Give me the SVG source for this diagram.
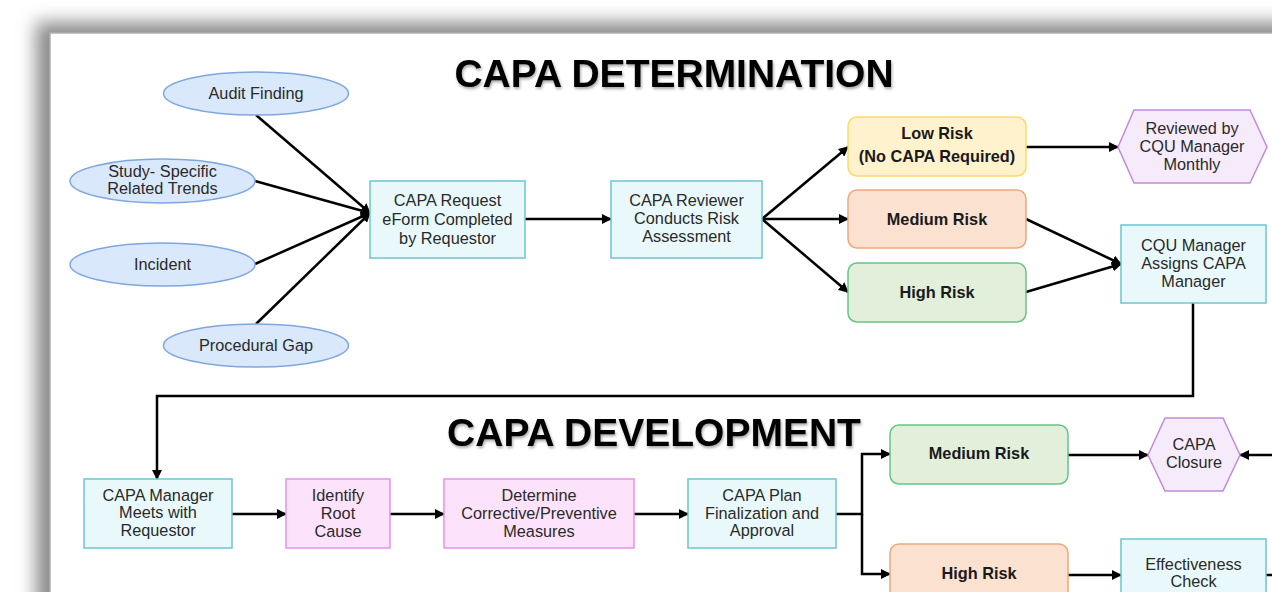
<svg xmlns="http://www.w3.org/2000/svg" width="1272" height="592" viewBox="0 0 1272 592">
<style>
.t{font-family:"Liberation Sans",Arial,sans-serif;font-size:16.3px;fill:#2a2a2a;text-anchor:middle}
.b{font-family:"Liberation Sans",Arial,sans-serif;font-size:16.3px;font-weight:bold;fill:#1a1a1a;text-anchor:middle}
.h{font-family:"Liberation Sans",Arial,sans-serif;font-size:39px;font-weight:bold;fill:#000;text-anchor:middle}
.ell{fill:#dae8fc;stroke:#7ea6e0;stroke-width:1.5}
.cy{fill:#e9f9fb;stroke:#6cc6cf;stroke-width:1.5}
.pk{fill:#fde2fb;stroke:#e891e8;stroke-width:1.5}
.lo{fill:#fff2cc;stroke:#ffd966;stroke-width:1.5}
.me{fill:#fae1d0;stroke:#f0a878;stroke-width:1.5}
.hi{fill:#e1efdb;stroke:#66c585;stroke-width:1.5}
.hx{fill:#f6ebfb;stroke:#c08ae0;stroke-width:1.5}
.c{fill:none;stroke:#000;stroke-width:2.5}
</style>
<defs>
<marker id="ar" viewBox="0 0 10 10" refX="9" refY="5" markerWidth="4" markerHeight="4" orient="auto" markerUnits="strokeWidth">
<path d="M0,0 L10,5 L0,10 z" fill="#000"/>
</marker>
<filter id="sh" x="-10%" y="-10%" width="120%" height="120%">
<feGaussianBlur stdDeviation="9"/>
</filter>
<filter id="ts" x="-5%" y="-20%" width="110%" height="140%">
<feGaussianBlur in="SourceAlpha" stdDeviation="1.5"/>
<feOffset dx="1" dy="1.5" result="o"/>
<feComponentTransfer><feFuncA type="linear" slope="0.35"/></feComponentTransfer>
<feMerge><feMergeNode/><feMergeNode in="SourceGraphic"/></feMerge>
</filter>
</defs>
<rect width="1272" height="592" fill="#fff"/>
<rect x="36" y="22" width="1300" height="650" fill="#8a8a8a" filter="url(#sh)"/>
<rect x="50" y="33" width="1240" height="600" fill="#fff" stroke="#b0b0b0" stroke-width="1.5"/>

<text class="h" x="674" y="87" filter="url(#ts)">CAPA DETERMINATION</text>
<text class="h" x="654" y="446" filter="url(#ts)">CAPA DEVELOPMENT</text>

<g id="connectors">
<line class="c" x1="256" y1="115" x2="370" y2="213" marker-end="url(#ar)"/>
<line class="c" x1="255" y1="181" x2="370" y2="213" marker-end="url(#ar)"/>
<line class="c" x1="255" y1="264" x2="370" y2="213" marker-end="url(#ar)"/>
<line class="c" x1="256" y1="324" x2="370" y2="213" marker-end="url(#ar)"/>
<line class="c" x1="525" y1="219" x2="611" y2="219" marker-end="url(#ar)"/>
<line class="c" x1="762" y1="219" x2="848" y2="147" marker-end="url(#ar)"/>
<line class="c" x1="762" y1="219" x2="848" y2="219" marker-end="url(#ar)"/>
<line class="c" x1="762" y1="219" x2="848" y2="292" marker-end="url(#ar)"/>
<line class="c" x1="1026" y1="147" x2="1118" y2="147" marker-end="url(#ar)"/>
<line class="c" x1="1026" y1="219" x2="1121" y2="264" marker-end="url(#ar)"/>
<line class="c" x1="1026" y1="292" x2="1121" y2="264" marker-end="url(#ar)"/>
<polyline class="c" points="1193,303 1193,396 157,396 157,479" marker-end="url(#ar)"/>
<line class="c" x1="232" y1="514" x2="286" y2="514" marker-end="url(#ar)"/>
<line class="c" x1="390" y1="514" x2="444" y2="514" marker-end="url(#ar)"/>
<line class="c" x1="634" y1="514" x2="688" y2="514" marker-end="url(#ar)"/>
<polyline class="c" points="836,514 862,514 862,454 890,454" marker-end="url(#ar)"/>
<polyline class="c" points="862,514 862,574 890,574" marker-end="url(#ar)"/>
<line class="c" x1="1068" y1="455" x2="1148" y2="455" marker-end="url(#ar)"/>
<line class="c" x1="1274" y1="455" x2="1240" y2="455" marker-end="url(#ar)"/>
<line class="c" x1="1068" y1="575" x2="1121" y2="575" marker-end="url(#ar)"/>
<line class="c" x1="1266" y1="575" x2="1274" y2="575"/>
</g>

<g id="audit"><ellipse class="ell" cx="256" cy="93.5" rx="92.5" ry="21.5"/><text class="t" x="256" y="99">Audit Finding</text></g>
<g id="study"><ellipse class="ell" cx="162.5" cy="181" rx="92.5" ry="22"/><text class="t" x="162.5" y="177">Study- Specific</text><text class="t" x="162.5" y="194">Related Trends</text></g>
<g id="incident"><ellipse class="ell" cx="162.5" cy="264.5" rx="92.5" ry="21.5"/><text class="t" x="162.5" y="270">Incident</text></g>
<g id="procedural"><ellipse class="ell" cx="256" cy="345.5" rx="92.5" ry="21.5"/><text class="t" x="256" y="351">Procedural Gap</text></g>

<g id="request"><rect class="cy" x="370" y="181" width="155" height="77"/><text class="t" x="447.5" y="206">CAPA Request</text><text class="t" x="447.5" y="225">eForm Completed</text><text class="t" x="447.5" y="244">by Requestor</text></g>
<g id="reviewer"><rect class="cy" x="611" y="181" width="151" height="77"/><text class="t" x="686.5" y="206">CAPA Reviewer</text><text class="t" x="686.5" y="224">Conducts Risk</text><text class="t" x="686.5" y="242">Assessment</text></g>

<g id="lowrisk"><rect class="lo" x="848" y="117" width="178" height="59" rx="9"/><text class="b" x="937" y="139">Low Risk</text><text class="b" x="937" y="162">(No CAPA Required)</text></g>
<g id="medrisk1"><rect class="me" x="848" y="190" width="178" height="58" rx="9"/><text class="b" x="937" y="225">Medium Risk</text></g>
<g id="highrisk1"><rect class="hi" x="848" y="263" width="178" height="59" rx="9"/><text class="b" x="937" y="298">High Risk</text></g>

<g id="reviewed"><polygon class="hx" points="1118,147 1134,110 1250,110 1267,147 1250,183 1134,183"/><text class="t" x="1192" y="134">Reviewed by</text><text class="t" x="1192" y="152">CQU Manager</text><text class="t" x="1192" y="170">Monthly</text></g>
<g id="cqu"><rect class="cy" x="1121" y="225" width="145" height="78"/><text class="t" x="1193.5" y="251">CQU Manager</text><text class="t" x="1193.5" y="269">Assigns CAPA</text><text class="t" x="1193.5" y="287">Manager</text></g>

<g id="meets"><rect class="cy" x="84" y="479" width="148" height="69"/><text class="t" x="158" y="501">CAPA Manager</text><text class="t" x="158" y="518">Meets with</text><text class="t" x="158" y="536">Requestor</text></g>
<g id="root"><rect class="pk" x="286" y="479" width="104" height="69"/><text class="t" x="338" y="501">Identify</text><text class="t" x="338" y="519">Root</text><text class="t" x="338" y="537">Cause</text></g>
<g id="determine"><rect class="pk" x="444" y="479" width="190" height="69"/><text class="t" x="539" y="501">Determine</text><text class="t" x="539" y="519">Corrective/Preventive</text><text class="t" x="539" y="537">Measures</text></g>
<g id="plan"><rect class="cy" x="688" y="479" width="148" height="69"/><text class="t" x="762" y="501">CAPA Plan</text><text class="t" x="762" y="519">Finalization and</text><text class="t" x="762" y="536">Approval</text></g>

<g id="medrisk2"><rect class="hi" x="890" y="425" width="178" height="59" rx="9"/><text class="b" x="979" y="459">Medium Risk</text></g>
<g id="highrisk2"><rect class="me" x="890" y="544" width="178" height="70" rx="9"/><text class="b" x="979" y="579">High Risk</text></g>
<g id="closure"><polygon class="hx" points="1148,455 1165,418 1223,418 1240,455 1223,491 1165,491"/><text class="t" x="1194" y="450">CAPA</text><text class="t" x="1194" y="468">Closure</text></g>
<g id="effectiveness"><rect class="cy" x="1121" y="539" width="145" height="70"/><text class="t" x="1193.5" y="570">Effectiveness</text><text class="t" x="1193.5" y="587">Check</text></g>
</svg>
